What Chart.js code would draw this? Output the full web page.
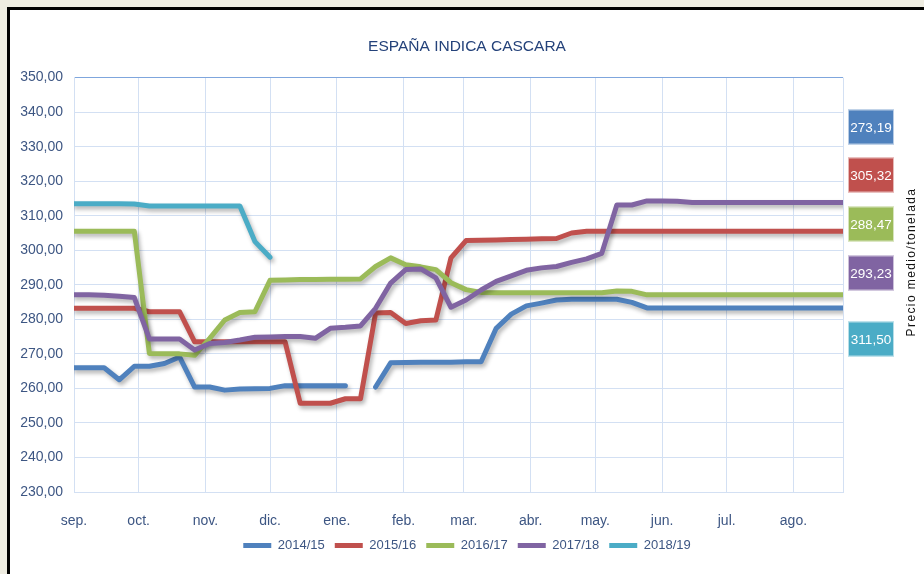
<!DOCTYPE html>
<html><head><meta charset="utf-8">
<script src="https://cdn.jsdelivr.net/npm/chart.js@4/dist/chart.umd.min.js"></script>
<style>
html,body{margin:0;padding:0;background:#EEECE1;width:924px;height:574px;overflow:hidden}
#frame{position:absolute;left:7px;top:7px;width:917px;height:567px;border-top:3px solid #000;border-left:3px solid #000;background:#fff}
canvas{position:absolute;left:0;top:0}
</style></head>
<body>
<div id="frame"><canvas id="c" width="914" height="564"></canvas></div>
<script>
// ---- categories (days since 1 Sep, one point per week) ----
const weekDay = [0,7,14,21,28,35,42,49,56,63,70,77,84,91,98,105,112,119,126,133,140,147,154,161,168,175,182,189,196,203,210,217,224,231,238,245,252,259,266,273,280,287,294,301,308,315,322,329,336,343,350,357];
const monthDay = [0,30,61,91,122,153,181,212,242,273,303,334];
const monthLabels = ['sep.','oct.','nov.','dic.','ene.','feb.','mar.','abr.','may.','jun.','jul.','ago.'];
const seriesNames = ['2014/15','2015/16','2016/17','2017/18','2018/19'];

// ---- series values (€/t) ----
const s1415 = [266.0,266.0,266.0,262.5,266.4,266.4,267.2,269.1,260.4,260.4,259.5,259.8,259.9,260.0,260.8,260.8,260.8,260.8,260.8,null,260.4,267.4,267.5,267.6,267.6,267.6,267.7,267.7,277.4,281.5,283.9,284.7,285.6,285.8,285.8,285.8,285.8,284.9,283.3,283.3,283.3,283.3,283.3,283.3,283.3,283.3,283.3,283.3,283.3,283.3,283.3,283.3];
const s1516 = [283.2,283.2,283.2,283.2,283.2,282.2,282.2,282.2,273.5,273.5,273.5,273.5,273.5,273.5,273.5,255.7,255.7,255.7,257.0,257.0,281.8,282.0,278.8,279.6,279.8,297.8,302.8,302.9,303.0,303.1,303.2,303.3,303.4,305.0,305.5,305.5,305.5,305.5,305.5,305.5,305.5,305.5,305.5,305.5,305.5,305.5,305.5,305.5,305.5,305.5,305.5,305.5];
const s1617 = [305.5,305.5,305.5,305.5,305.5,270.1,270.0,270.0,269.6,274.5,279.8,282.0,282.2,291.3,291.4,291.5,291.5,291.6,291.6,291.7,295.3,297.8,295.8,295.2,294.4,290.6,288.6,287.8,287.7,287.7,287.7,287.7,287.7,287.7,287.7,287.7,288.2,288.1,287.1,287.1,287.1,287.1,287.1,287.1,287.1,287.1,287.1,287.1,287.1,287.1,287.1,287.1];
const s1718 = [287.1,287.1,287.0,286.7,286.3,274.3,274.3,274.3,271.1,273.0,273.3,274.0,274.8,274.9,275.0,275.0,274.5,277.4,277.7,278.1,283.2,290.5,294.4,294.6,292.0,283.5,285.6,288.5,291.0,292.6,294.2,294.9,295.3,296.5,297.5,299.1,313.1,313.1,314.3,314.3,314.2,313.8,313.8,313.8,313.8,313.8,313.8,313.8,313.8,313.8,313.8,313.8];
const s1819 = [313.5,313.5,313.5,313.5,313.4,312.8,312.8,312.8,312.8,312.8,312.8,312.8,302.5,298.0];

// ---- side boxes (average price per tonne) ----
const boxValues = ['273,19','305,32','288,47','293,23','311,50'];

const colors = ['#4F81BD','#C0504D','#9BBB59','#8064A2','#4BACC6'];
const FONT = "'Liberation Sans',Arial,sans-serif";
const TXT = '#3D5683';

const allSeries = [s1415,s1516,s1617,s1718,s1819];
const datasets = allSeries.map((s,i)=>({
  label: seriesNames[i],
  data: s.map((v,j)=>({x: weekDay[j], y: v})),
  borderColor: colors[i],
  backgroundColor: colors[i],
  borderWidth: 5,
  borderCapStyle: 'round',
  borderJoinStyle: 'round',
  pointRadius: 0,
  pointHoverRadius: 0,
  tension: 0,
  spanGaps: false,
  order: -i
}));

const shadowPlugin = {
  id: 'shadow',
  beforeDatasetDraw(chart){ const c = chart.ctx; c.save(); c.shadowColor='rgba(0,0,0,0.30)'; c.shadowBlur=4; c.shadowOffsetX=2; c.shadowOffsetY=3; },
  afterDatasetDraw(chart){ chart.ctx.restore(); }
};

const boxCenters = [117,165,214,263,329];
const sidePlugin = {
  id: 'side',
  afterDraw(chart){
    const ctx = chart.ctx;
    ctx.save();
    boxValues.forEach((t,i)=>{
      const cy = boxCenters[i];
      ctx.fillStyle = colors[i];
      ctx.fillRect(838, cy-17.5, 46, 35);
      ctx.strokeStyle = 'rgba(255,255,255,0.6)';
      ctx.lineWidth = 1;
      ctx.strokeRect(838.5, cy-17, 45, 34);
      ctx.fillStyle = '#fff';
      ctx.font = '13.5px ' + FONT;
      ctx.textAlign = 'center';
      ctx.textBaseline = 'middle';
      ctx.fillText(t, 861, cy+1);
    });
    ctx.translate(902, 252);
    ctx.rotate(-Math.PI/2);
    ctx.fillStyle = '#111';
    ctx.font = "12px 'Liberation Sans', Arial, sans-serif";
    try { ctx.letterSpacing = '1.4px'; } catch(e){}
    ctx.textAlign = 'center';
    ctx.textBaseline = 'middle';
    ctx.fillText('Precio medio/tonelada', 0, 0);
    ctx.restore();
  }
};

new Chart(document.getElementById('c'), {
  type: 'line',
  data: { datasets },
  options: {
    responsive: false,
    devicePixelRatio: 1,
    animation: false,
    layout: { padding: { left: 0, right: 0, top: 0, bottom: 12 } },
    plugins: {
      title: { display: true, text: 'ESPAÑA INDICA CASCARA', color: '#24427A',
        font: { family: FONT, size: 15.5, weight: 'normal' }, padding: { top: 27, bottom: 22 } },
      legend: { position: 'bottom',
        labels: { usePointStyle: true, pointStyle: 'line', pointStyleWidth: 28, color: TXT,
          font: { family: FONT, size: 13 }, padding: 10,
          sort: (a,b)=>a.datasetIndex-b.datasetIndex } },
      tooltip: { enabled: false }
    },
    scales: {
      x: {
        type: 'linear', min: 0, max: 357,
        afterBuildTicks: (s)=>{ s.ticks = monthDay.map(v=>({value:v})).concat([{value:357}]); },
        afterFit: (s)=>{ s.height = 37; },
        ticks: { autoSkip: false, maxRotation: 0, padding: 21, color: TXT, font: { family: FONT, size: 14 },
          callback: (v)=>{ const k = monthDay.indexOf(v); return k>=0 ? monthLabels[k] : ''; } },
        grid: { color: '#D3E0F3', drawTicks: false },
        border: { color: '#D3E0F3' }
      },
      y: {
        min: 230, max: 350,
        afterFit: (s)=>{ s.width = 64; },
        ticks: { stepSize: 10, padding: 11, color: TXT, font: { family: FONT, size: 14 },
          callback: (v)=> v.toFixed(2).replace('.', ',') },
        grid: { color: (c)=> c.tick && c.tick.value===350 ? '#7FA6DD' : '#D3E0F3', drawTicks: false },
        border: { color: '#D3E0F3' }
      },
      side: {
        type: 'linear', position: 'right', display: true,
        afterFit: (s)=>{ s.width = 81; },
        ticks: { display: false },
        grid: { display: false, drawTicks: false },
        border: { display: false }
      }
    }
  },
  plugins: [shadowPlugin, sidePlugin]
});
</script>
</body></html>
